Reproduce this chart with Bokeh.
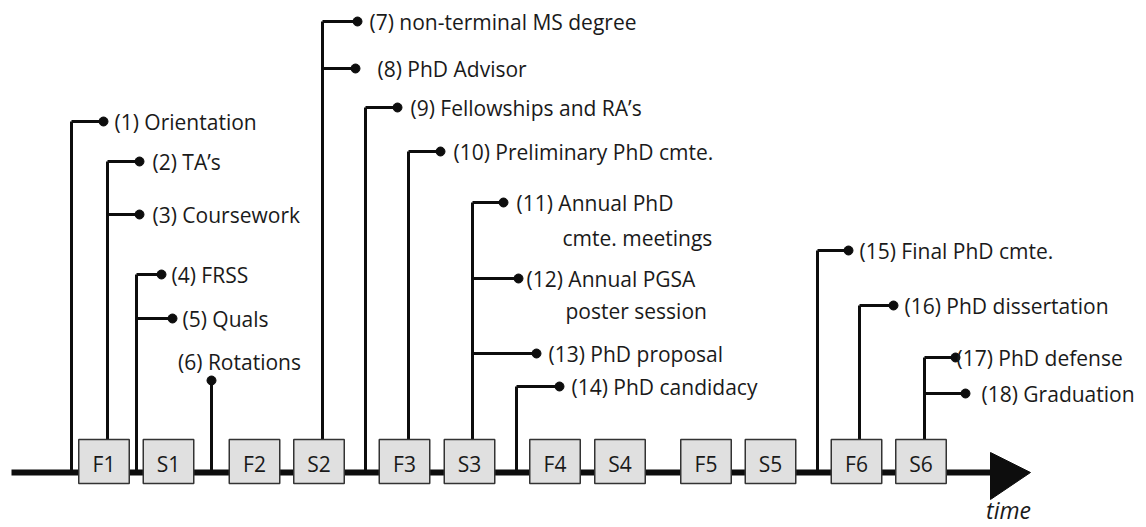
from bokeh.plotting import figure
from bokeh.models import Range1d, ColumnDataSource
from bokeh.core.properties import value
from bokeh.embed import file_html
from bokeh.resources import INLINE

# ---- data ----
semesters = ["F1", "S1", "F2", "S2", "F3", "S3", "F4", "S4", "F5", "S5", "F6", "S6"]
semester_x = [103.5, 168, 254, 318.5, 404, 469, 554.5, 619.5, 705.5, 770, 856, 920.5]

event_labels = ["(1) Orientation", "(2) TA\u2019s", "(3) Coursework", "(4) FRSS", "(5) Quals",
                "(6) Rotations", "(7) non-terminal MS degree", "(8) PhD Advisor",
                "(9) Fellowships and RA\u2019s", "(10) Preliminary PhD cmte.", "(11) Annual PhD",
                "(12) Annual PGSA", "(13) PhD proposal", "(14) PhD candidacy",
                "(15) Final PhD cmte.", "(16) PhD dissertation", "(17) PhD defense",
                "(18) Graduation"]
event_stem_x = [71, 107, 107, 136, 136, 211, 322, 322, 365, 408, 472, 472, 472, 516, 817, 859, 924, 924]
event_y = [121, 161, 214, 274, 318, 380, 21, 68, 107, 151, 202, 278, 353, 386, 250, 305, 357, 393]
event_dot_x = [103, 139, 139, 161, 172, 211, 357, 355, 397, 440, 503, 518, 536, 559, 848, 893, 955, 965]
event_label_x = [114, 152, 152, 171, 182, 239, 369, 377, 410, 453, 516, 526, 548, 571, 859, 904, 956, 981]

cont_labels = ["cmte. meetings", "poster session"]
cont_x = [562, 565]
cont_y = [237, 310]

timeline_y = 472
timeline_start = 11
timeline_end = 990
arrow_tip = 1030

p = figure(width=1146, height=527, output_backend="svg", toolbar_location=None,
           x_range=Range1d(0, 1146), y_range=Range1d(527, 0), min_border=0)
p.axis.visible = False
p.grid.visible = False
p.outline_line_color = None

ink = "#0d0d0d"
txt = "#1a1a1a"
font = value("Open Sans")
fs = "21px"

# timeline
p.segment(x0=[timeline_start], y0=[timeline_y], x1=[timeline_end], y1=[timeline_y],
          line_color=ink, line_width=6)
p.patch(x=[timeline_end, arrow_tip, timeline_end], y=[timeline_y - 20, timeline_y, timeline_y + 27],
        fill_color=ink, line_color=ink)

# stems
n = len(event_labels)
stems = ColumnDataSource(dict(x=event_stem_x, y=event_y, dx=event_dot_x,
                              base=[timeline_y] * n))
p.segment(x0="x", y0="base", x1="x", y1="y", source=stems, line_color=ink, line_width=3)
p.segment(x0="x", y0="y", x1="dx", y1="y", source=stems, line_color=ink, line_width=3)
p.scatter(x="dx", y="y", source=stems, size=9, fill_color=ink, line_color=ink)

# semester boxes
p.rect(x=semester_x, y=[461] * len(semesters), width=50.5, height=44,
       fill_color="#e0e0e0", line_color="#333333", line_width=1.5)
p.text(x=semester_x, y=[463] * len(semesters), text=semesters, text_align="center",
       text_baseline="middle", text_font=font, text_font_size=fs, text_color=txt)

# labels
align = ["left"] * n
align[5] = "center"
lab_y = [y if i != 5 else 361 for i, y in enumerate(event_y)]
lab = ColumnDataSource(dict(x=event_label_x, y=lab_y, t=event_labels, a=align))
p.text(x="x", y="y", text="t", text_align="a", source=lab, text_baseline="middle",
       text_font=font, text_font_size=fs, text_color=txt)
p.text(x=cont_x, y=cont_y, text=cont_labels, text_baseline="middle",
       text_font=font, text_font_size=fs, text_color=txt)

p.text(x=[1008], y=[509], text=["time"], text_align="center", text_baseline="middle",
       text_font=font, text_font_size="23px", text_font_style="italic", text_color=txt)

open("out.html", "w").write(file_html(p, INLINE))
